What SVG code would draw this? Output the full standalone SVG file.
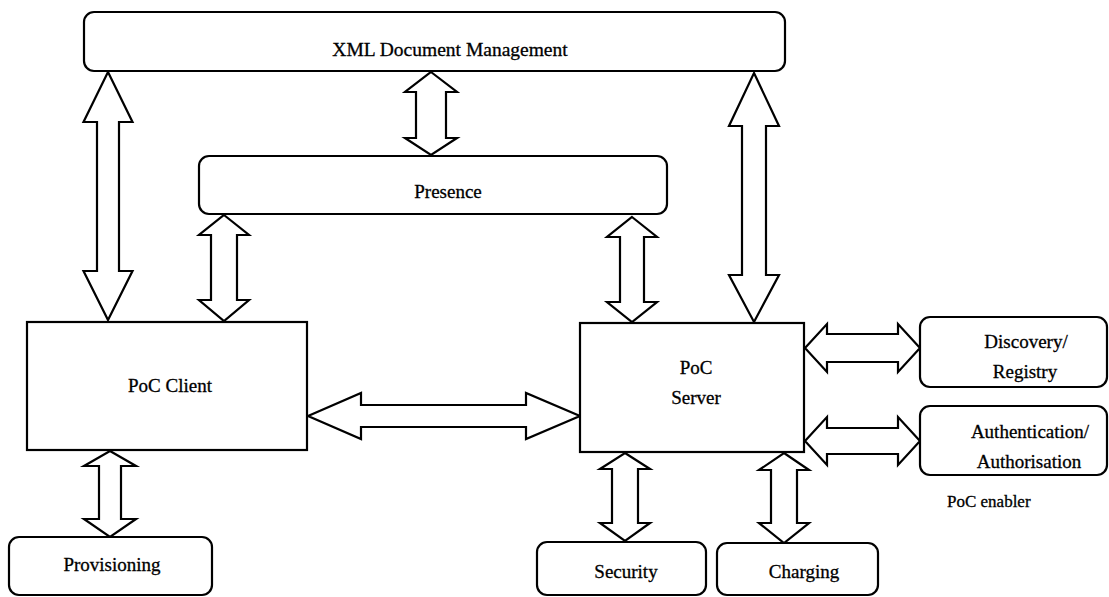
<svg xmlns="http://www.w3.org/2000/svg" width="1109" height="597" viewBox="0 0 1109 597">
<style>
.box{fill:#fff;stroke:#000;stroke-width:2.2}
.arr{fill:#fff;stroke:#000;stroke-width:2.2;stroke-linejoin:miter}
.t{font-family:"Liberation Serif","Times New Roman",serif;font-size:19px;fill:#000;stroke:#000;stroke-width:0.3;text-anchor:middle}
</style>
<rect width="1109" height="597" fill="#fff"/>
<g id="connectors">
<polygon class="arr" points="108,72 132.5,122 119,122 119,271 132.5,271 108,320 83.5,271 97,271 97,122 83.5,122"/>
<polygon class="arr" points="431,72 457,92 446,92 446,138 457,138 431,155 405,138 416,138 416,92 405,92"/>
<polygon class="arr" points="224,215 249,235 237,235 237,300 249,300 224,321 199,300 211,300 211,235 199,235"/>
<polygon class="arr" points="632,217 657,237 644,237 644,302 657,302 632,322 607,302 620,302 620,237 607,237"/>
<polygon class="arr" points="754,73 779,126 766,126 766,275 779,275 754,322 729,275 742,275 742,126 729,126"/>
<polygon class="arr" points="110,451 136,466 121,466 121,519 136,519 110,537 84,519 99,519 99,466 84,466"/>
<polygon class="arr" points="625,453 650,469 638,469 638,523 650,523 625,541 600,523 612,523 612,469 600,469"/>
<polygon class="arr" points="784,453 809,470 797,470 797,523 809,523 784,543 759,523 771,523 771,470 759,470"/>
<polygon class="arr" points="308,416 361,393 361,405 526,405 526,393 580,416 526,439 526,427 361,427 361,439"/>
<polygon class="arr" points="805,348 827,324 827,334 898,334 898,324 920,348 898,372 898,362 827,362 827,372"/>
<polygon class="arr" points="805,441 827,417 827,428 898,428 898,417 920,441 898,465 898,454 827,454 827,465"/>
</g>
<g id="xml">
<rect class="box" x="84" y="12" width="701" height="59" rx="10"/>
<text class="t" x="450" y="56" style="font-size:19.5px">XML Document Management</text>
</g>
<g id="presence">
<rect class="box" x="199" y="156" width="468" height="58" rx="10"/>
<text class="t" x="448" y="198">Presence</text>
</g>
<g id="poc-client">
<rect class="box" x="27" y="322" width="280" height="128"/>
<text class="t" x="170" y="392">PoC Client</text>
</g>
<g id="poc-server">
<rect class="box" x="580" y="323" width="224" height="129"/>
<text class="t" x="696" y="374">PoC</text>
<text class="t" x="696" y="404">Server</text>
</g>
<g id="discovery">
<rect class="box" x="920" y="317" width="187" height="70" rx="10"/>
<text class="t" x="1026" y="348">Discovery/</text>
<text class="t" x="1025" y="378">Registry</text>
</g>
<g id="auth">
<rect class="box" x="920" y="406" width="187" height="69" rx="10"/>
<text class="t" x="1030" y="438">Authentication/</text>
<text class="t" x="1029" y="468">Authorisation</text>
</g>
<g id="enabler-label">
<text class="t" x="947" y="507" style="text-anchor:start;font-size:17px">PoC enabler</text>
</g>
<g id="provisioning">
<rect class="box" x="9" y="537" width="203" height="58" rx="10"/>
<text class="t" x="112" y="571">Provisioning</text>
</g>
<g id="security">
<rect class="box" x="537" y="542" width="169" height="53" rx="10"/>
<text class="t" x="626" y="578">Security</text>
</g>
<g id="charging">
<rect class="box" x="717" y="543" width="161" height="52" rx="10"/>
<text class="t" x="804" y="578">Charging</text>
</g>
</svg>
